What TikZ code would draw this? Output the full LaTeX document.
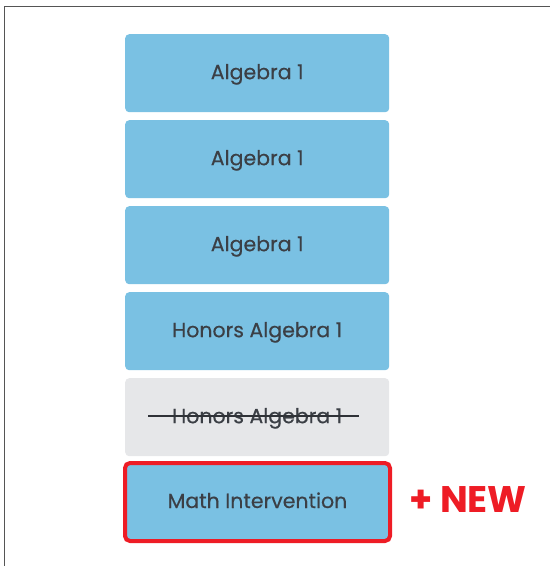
\documentclass[tikz,border=0pt]{standalone}
\usepackage{fontspec}
\setmainfont{Poppins}
\newfontfamily\coursefont[FakeBold=0.4]{Poppins}
\definecolor{boxblue}{HTML}{7AC1E3}
\definecolor{boxgrey}{HTML}{E6E7E9}
\definecolor{txtdark}{HTML}{3B3F45}
\definecolor{newred}{HTML}{EE1C25}
\definecolor{framegrey}{HTML}{555555}
\begin{document}
\begin{tikzpicture}[x=1pt,y=-1pt,
  course/.style={rounded corners=4pt, minimum width=264pt, minimum height=78pt, inner sep=0pt, text height=12pt, text depth=0pt, text=txtdark, font=\coursefont\fontsize{20.5}{24}\selectfont, anchor=north west},
  bluebox/.style={course, fill=boxblue},
  greybox/.style={course, fill=boxgrey},
  newbox/.style={course, fill=boxblue, draw=newred, line width=4pt, rounded corners=5pt, minimum width=265pt, minimum height=78pt},
  newlabel/.style={text=newred, font=\fontsize{37}{42}\selectfont\bfseries, inner sep=0pt}]
\useasboundingbox (0,0) rectangle (550,566);
\draw[framegrey, line width=1.8pt] (4.5,566) coordinate (fbl) -- (4.5,6.5) coordinate (ftl) -- (550,6.5) coordinate (ftr);
\node[bluebox] (a1) at (125,34) {Algebra 1};
\node[bluebox] (a2) at (125,120) {Algebra 1};
\node[bluebox] (a3) at (125,206) {Algebra 1};
\node[bluebox] (h1) at (125,292) {Honors Algebra 1};
\node[greybox] (h2) at (125,378) {Honors Algebra 1};
\draw[txtdark!80!black, line width=1.6pt] ([xshift=-109pt,yshift=1pt]h2.center) coordinate (sl) -- ([xshift=102pt,yshift=1pt]h2.center) coordinate (sr);
\node[newbox] (mi) at (123,461) {Math Intervention};
\node[newlabel] (nw) at (468,500) {+ NEW};
\end{tikzpicture}
\end{document}
